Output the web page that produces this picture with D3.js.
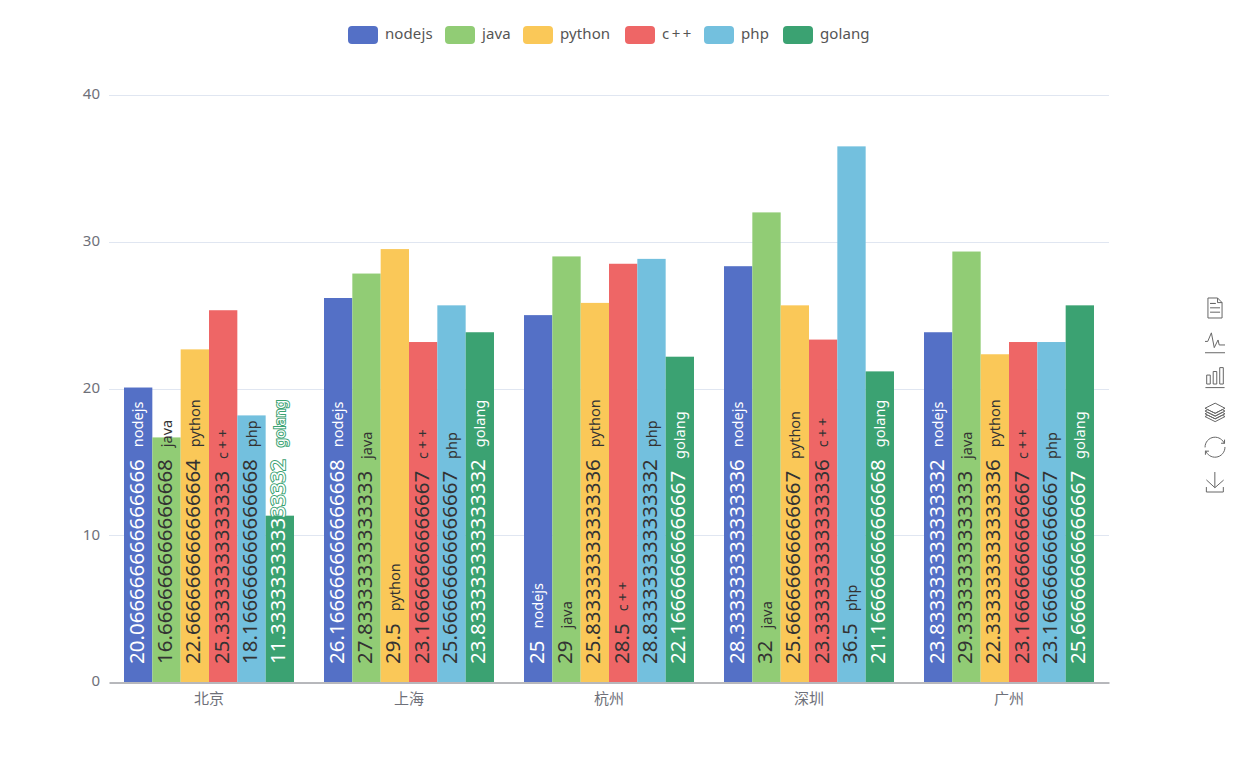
<!DOCTYPE html>
<html><head><meta charset="utf-8">
<script src="https://cdn.jsdelivr.net/npm/d3@7/dist/d3.min.js"></script>
<style>html,body{margin:0;padding:0;background:#fff}svg{display:block}text{font-family:"Noto Sans","Noto Sans CJK SC",sans-serif}</style>
</head><body><svg id="c" width="1249" height="775"></svg>
<script>
const categories = ["北京","上海","杭州","深圳","广州"];
const seriesNames = ["nodejs","java","python","c++","php","golang"];
const colors = ["#5470c6","#91cc75","#fac858","#ee6666","#73c0de","#3ba272"];
const labelFills = ["#fff","#333","#333","#333","#333","#fff"];
const nodejs = ["20.066666666666666","26.166666666666668","25","28.333333333333336","23.833333333333332"];
const java = ["16.666666666666668","27.83333333333333","29","32","29.33333333333333"];
const python = ["22.666666666666664","29.5","25.833333333333336","25.66666666666667","22.333333333333336"];
const cpp = ["25.33333333333333","23.16666666666667","28.5","23.333333333333336","23.16666666666667"];
const php = ["18.166666666666668","25.66666666666667","28.833333333333332","36.5","23.16666666666667"];
const golang = ["11.333333333333332","23.833333333333332","22.16666666666667","21.166666666666668","25.66666666666667"];
const yTicks = [0,10,20,30,40];
const seriesValues = [nodejs,java,python,cpp,php,golang];

const toolIcons = [
 "M17.5,17.3H33 M17.5,17.3H33 M45.4,29.5h-28 M11.5,2v56H51V14.8L38.4,2H11.5z M38.4,2.2v12.7H51 M45.4,41.7h-28",
 "M4.1,28.9h7.1l9.3-22l7.4,38l9.7-19.7l3,12.8h14.9M4.1,58h51.4",
 "M6.7,22.9h10V48h-10V22.9zM24.9,13h10v35h-10V13zM43.2,2h10v46h-10V2zM3.1,58h53.7",
 "M8.2,38.4l-8.4,4.1l30.6,15.3L60,42.5l-8.1-4.1l-21.5,11L8.2,38.4z M51.9,30l-8.1,4.2l-13.4,6.9l-13.9-6.9L8.2,30l-8.4,4.2l8.4,4.2l22.2,11l21.5-11l8.1-4.2L51.9,30z M51.9,21.7l-8.1,4.2L35.7,30l-5.3,2.8L24.9,30l-8.4-4.1l-8.3-4.2l-8.4,4.2L8.2,30l8.3,4.2l13.9,6.9l13.4-6.9l8.1-4.2l8.1-4.1L51.9,21.7zM30.4,2.2L-0.2,17.5l8.4,4.1l8.3,4.2l8.4,4.2l5.5,2.7l5.3-2.7l8.1-4.2l8.1-4.2l8.1-4.1L30.4,2.2z",
 "M3.8,33.4 M47,18.9h9.8V8.7 M56.3,20.1 C52.1,9,40.5,0.6,26.8,2.1C12.6,3.7,1.6,16.2,2.1,30.6 M13,41.1H3.1v10.2 M3.7,39.9c4.2,11.1,15.8,19.5,29.5,18 c14.2-1.6,25.2-14.1,24.7-28.5",
 "M4.7,22.9L29.3,45.5L54.7,23.4M4.6,43.6L4.6,58L53.8,58L53.8,43.6M29.2,45.1L29.2,0"
];

const svg = d3.select("#c");
const x0 = d3.scaleBand().domain(categories).range([109,1109]);
const x1 = d3.scaleBand().domain(seriesNames).range([0,170]);
const y = d3.scaleLinear().domain([0,40]).range([682,95]);

// grid + y labels
svg.append("g").selectAll("line").data(yTicks.slice(1)).join("line")
  .attr("x1",109).attr("x2",1109).attr("y1",d=>Math.round(y(d))+0.5).attr("y2",d=>Math.round(y(d))+0.5)
  .attr("stroke","#e0e6f1").attr("stroke-width",1);
const yAxis = d3.axisLeft(y).tickValues(yTicks).tickSize(0).tickPadding(9);
const yg = svg.append("g").attr("transform","translate(109,-1)").call(yAxis);
yg.select(".domain").remove();
yg.selectAll("text").attr("fill","#6e7079").attr("font-size",15);

// bars
seriesNames.forEach((s,i)=>{
  svg.append("g").selectAll("rect").data(seriesValues[i]).join("rect")
    .attr("x",(d,j)=>x0(categories[j])+15+x1(s))
    .attr("width",x1.bandwidth())
    .attr("y",d=>y(+d)).attr("height",d=>y(0)-y(+d))
    .attr("fill",colors[i]);
});

// x axis
const xAxis = d3.axisBottom(x0).tickSize(0).tickPadding(11);
const xg = svg.append("g").attr("transform","translate(0,682.5)").call(xAxis);
xg.select(".domain").attr("stroke","#6e7079").attr("stroke-width",1);
xg.selectAll("text").attr("fill","#6e7079").attr("font-size",15).style("font-family",'"Noto Sans CJK SC"');

// labels
seriesNames.forEach((s,i)=>{
  const g = svg.append("g");
  seriesValues[i].forEach((v,j)=>{
    const cx = x0(categories[j])+15+x1(s)+x1.bandwidth()/2;
    const t = g.append("text")
      .attr("transform",`translate(${cx+5.5},664) rotate(-90)`)
      .attr("fill",labelFills[i])
      .attr("stroke",labelFills[i]==="#fff"?colors[i]:"none")
      .attr("stroke-width",labelFills[i]==="#fff"?2:0)
      .attr("paint-order","stroke");
    t.append("tspan").attr("font-size",20.5).text(v);
    t.append("tspan").attr("dx",12).attr("dy",-0.5).attr("font-size",14.5)
      .attr("letter-spacing",s==="c++"?3:0).text(s);
  });
});

// legend
const legendX = [348,445,523,625,704,783], legW = 30;
const lg = svg.append("g");
seriesNames.forEach((s,i)=>{
  lg.append("rect").attr("x",legendX[i]).attr("y",26).attr("width",legW).attr("height",18).attr("rx",4).attr("fill",colors[i]);
  lg.append("text").attr("x",legendX[i]+legW+7).attr("y",39).attr("font-size",15).attr("fill","#555")
    .attr("letter-spacing",s==="c++"?2.5:0.1).text(s);
});

// toolbox
const tb = svg.append("g");
toolIcons.forEach((p,i)=>{
  const path = tb.append("path").attr("d",p)
    .attr("fill","none").attr("stroke","#666").attr("stroke-width",1)
    .attr("vector-effect","non-scaling-stroke");
  const b = path.node().getBBox();
  const s = 20/Math.max(b.width,b.height);
  const cyIcon = 308+i*34.8;
  path.attr("transform",`translate(${1215-s*(b.x+b.width/2)},${cyIcon-s*(b.y+b.height/2)}) scale(${s})`);
});
</script></body></html>
